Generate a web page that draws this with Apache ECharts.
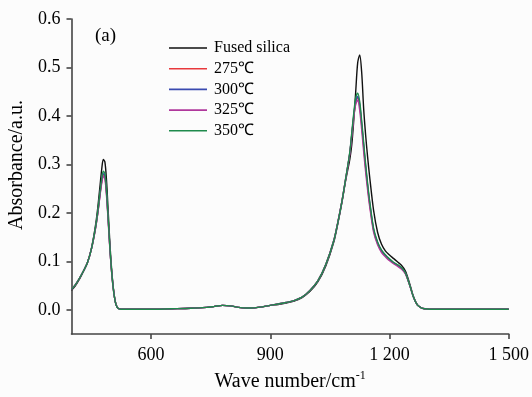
<!DOCTYPE html>
<html><head><meta charset="utf-8">
<script src="https://cdn.jsdelivr.net/npm/echarts@6/dist/echarts.min.js"></script>
<style>html,body{margin:0;padding:0;background:#fcfcfc}#c{width:532px;height:397px}</style>
</head><body><div id="c"></div>
<script>
const wavenumbers = [400,410,420,430,440,450,460,466,472,476,480,484,488,492,496,500,505,510,515,520,530,
560,600,650,700,740,760,780,800,820,840,860,880,900,920,940,960,980,1000,1020,1040,
1060,1070,1080,1090,1100,1105,1110,1115,1120,1125,1130,1135,1140,1145,1150,
1160,1170,1180,1190,1200,1210,1220,1230,1240,1250,1260,1270,1280,1290,1300,
1350,1400,1450,1500];

const fusedSilica = [0.040,0.050,0.063,0.079,0.097,0.126,0.172,0.210,0.258,0.290,0.310,0.305,0.268,0.208,0.146,0.094,0.047,0.018,0.005,0.002,0.001,
0.001,0.001,0.002,0.003,0.005,0.007,0.009,0.008,0.005,0.0035,0.004,0.006,0.009,0.011,0.014,0.018,0.025,0.038,0.058,0.091,
0.140,0.178,0.220,0.268,0.310,0.340,0.390,0.450,0.510,0.526,0.490,0.415,0.360,0.315,0.275,
0.205,0.160,0.135,0.121,0.113,0.106,0.099,0.092,0.080,0.056,0.028,0.010,0.004,0.002,0.001,
0.001,0.001,0.001,0.001];

const t275 = [0.042,0.052,0.065,0.080,0.097,0.125,0.166,0.199,0.239,0.264,0.279,0.275,0.241,0.190,0.135,0.088,0.045,0.017,0.005,0.002,0.001,
0.001,0.001,0.002,0.003,0.005,0.007,0.009,0.008,0.005,0.0035,0.004,0.006,0.009,0.012,0.015,0.019,0.026,0.040,0.060,0.094,
0.143,0.180,0.222,0.271,0.322,0.360,0.398,0.427,0.437,0.420,0.381,0.336,0.292,0.254,0.219,
0.164,0.137,0.121,0.111,0.103,0.097,0.092,0.086,0.075,0.053,0.027,0.010,0.004,0.002,0.001,
0.001,0.001,0.001,0.001];

const t300 = [0.042,0.052,0.065,0.080,0.097,0.125,0.167,0.200,0.241,0.266,0.281,0.277,0.243,0.191,0.136,0.088,0.045,0.017,0.005,0.002,0.001,
0.001,0.001,0.002,0.003,0.005,0.007,0.009,0.008,0.005,0.0035,0.004,0.006,0.009,0.012,0.015,0.019,0.026,0.040,0.060,0.094,
0.143,0.180,0.222,0.271,0.323,0.361,0.400,0.430,0.440,0.424,0.385,0.340,0.296,0.257,0.222,
0.166,0.139,0.122,0.112,0.104,0.097,0.092,0.086,0.076,0.053,0.027,0.010,0.004,0.002,0.001,
0.001,0.001,0.001,0.001];

const t325 = [0.042,0.052,0.065,0.080,0.097,0.125,0.166,0.198,0.237,0.261,0.275,0.270,0.236,0.186,0.132,0.086,0.044,0.017,0.005,0.002,0.001,
0.001,0.001,0.002,0.003,0.005,0.007,0.009,0.008,0.005,0.0035,0.004,0.006,0.009,0.012,0.015,0.019,0.026,0.040,0.060,0.094,
0.144,0.181,0.223,0.272,0.322,0.359,0.396,0.424,0.432,0.412,0.372,0.326,0.284,0.247,0.214,
0.160,0.134,0.118,0.109,0.101,0.095,0.090,0.084,0.074,0.052,0.027,0.010,0.004,0.002,0.001,
0.001,0.001,0.001,0.001];

const t350 = [0.042,0.052,0.065,0.080,0.097,0.125,0.168,0.202,0.244,0.270,0.286,0.281,0.246,0.193,0.137,0.089,0.045,0.017,0.005,0.002,0.001,
0.001,0.001,0.002,0.003,0.005,0.007,0.009,0.008,0.005,0.0035,0.004,0.006,0.009,0.012,0.015,0.019,0.026,0.040,0.060,0.094,
0.143,0.180,0.222,0.272,0.325,0.365,0.405,0.437,0.447,0.430,0.390,0.345,0.300,0.260,0.225,
0.168,0.140,0.123,0.113,0.105,0.098,0.093,0.087,0.076,0.053,0.027,0.010,0.004,0.002,0.001,
0.001,0.001,0.001,0.001];

const seriesNames = ['Fused silica','275℃','300℃','325℃','350℃'];
const seriesValues = [fusedSilica, t275, t300, t325, t350];
const seriesColors = ['#111111','#e8393c','#3a4ab0','#b0389c','#1f8a4c'];
const xTicks = [600, 900, 1200, 1500];
const yTicks = [0, 0.1, 0.2, 0.3, 0.4, 0.5, 0.6];

const FONT = '"Liberation Serif", "Times New Roman", serif';
const chart = echarts.init(document.getElementById('c'));
chart.setOption({
  backgroundColor: '#fcfcfc',
  animation: false,
  grid: {left: 71.5, top: 19, right: 23, bottom: 54.5},
  legend: {
    orient: 'vertical', left: 164, top: 35, itemWidth: 38, itemHeight: 1.6, itemGap: 4.7,
    icon: 'rect',
    data: seriesNames,
    textStyle: {fontFamily: FONT, fontSize: 16, color: '#000', padding: [0,0,0,2], lineHeight: 16}
  },
  xAxis: {
    type: 'value', min: 400, max: 1500,
    axisLine: {onZero: false, lineStyle: {color: '#444', width: 1.6}},
    axisTick: {customValues: xTicks, length: 5, lineStyle: {color: '#444', width: 1.6}},
    axisLabel: {customValues: xTicks, margin: 12, fontFamily: FONT, fontSize: 18, color: '#000',
      formatter: v => v >= 1000 ? String(v).replace(/^(\d)(\d{3})$/, '$1 $2') : String(v)},
    splitLine: {show: false},
    name: 'Wave number/cm{sup|-1}', nameLocation: 'middle', nameGap: 36,
    nameTextStyle: {fontFamily: FONT, fontSize: 20, color: '#000',
      rich: {sup: {fontFamily: FONT, fontSize: 12, color: '#000', verticalAlign: 'top', padding: [0,0,12,0]}}}
  },
  yAxis: {
    type: 'value', min: -0.05, max: 0.6,
    axisLine: {show: true, onZero: false, lineStyle: {color: '#444', width: 1.6}},
    axisTick: {show: true, customValues: yTicks, length: 5, lineStyle: {color: '#444', width: 1.6}},
    axisLabel: {customValues: yTicks, margin: 11, fontFamily: FONT, fontSize: 18, color: '#000',
      formatter: v => v.toFixed(1)},
    splitLine: {show: false}
  },
  graphic: [
    {type: 'text', left: 95, top: 27, style: {text: '(a)', font: '19px ' + FONT, fill: '#000'}},
    {type: 'text', x: 17, y: 165, rotation: Math.PI / 2,
      style: {text: 'Absorbance/a.u.', font: '20px ' + FONT, fill: '#000', align: 'center', verticalAlign: 'middle'}}
  ],
  series: seriesNames.map((name, i) => ({
    name, type: 'line', symbol: 'none', smooth: 0.3,
    data: wavenumbers.map((w, j) => [w, seriesValues[i][j]]),
    lineStyle: {color: seriesColors[i], width: 1.4},
    itemStyle: {color: seriesColors[i]},
    z: 2 + i
  }))
});
</script></body></html>
